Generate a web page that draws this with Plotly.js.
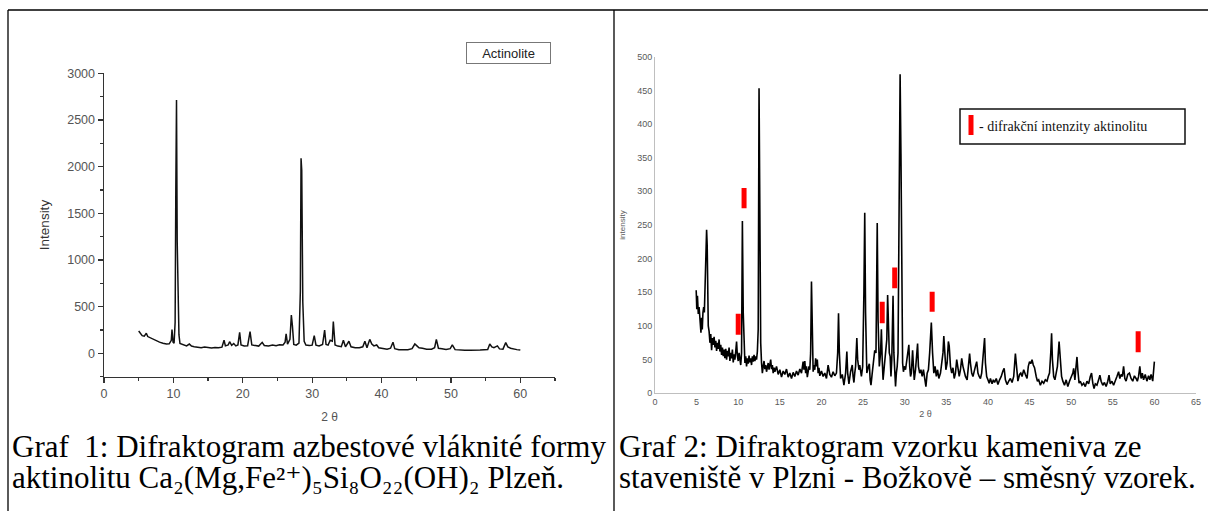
<!DOCTYPE html>
<html>
<head>
<meta charset="utf-8">
<script src="https://cdn.plot.ly/plotly-3.0.1.min.js"></script>
<style>html,body{margin:0;padding:0;background:#fff;}#plot{width:1208px;height:511px;}</style>
</head>
<body>
<div id="plot"></div>
<script>
// ---------- Chart 1: Actinolite diffractogram ----------
var theta1 = [5.0,5.2,5.5,5.8,6.1,6.3,6.7,7.1,7.5,8.0,8.5,9.0,9.4,9.7,9.8,9.95,10.1,10.25,10.35,10.45,10.55,10.65,10.8,10.95,11.4,11.9,12.3,12.6,13.0,13.5,14.0,14.5,15.0,15.5,16.0,16.5,17.0,17.3,17.5,17.9,18.1,18.4,18.7,19.0,19.3,19.55,19.75,20.2,20.7,21.05,21.3,21.8,22.3,22.8,23.1,23.7,24.3,24.8,25.3,25.8,26.1,26.25,26.45,26.8,27.0,27.15,27.35,27.7,28.1,28.3,28.4,28.5,28.65,28.85,29.1,29.6,30.0,30.3,30.55,31.0,31.5,31.8,32.0,32.3,32.6,32.9,33.05,33.3,33.7,34.2,34.5,34.8,35.3,35.6,36.2,36.8,37.3,37.6,37.9,38.3,38.6,38.9,39.3,39.6,40.2,40.8,41.3,41.65,41.9,42.5,43.2,43.8,44.4,44.8,45.1,45.4,45.9,46.5,47.2,47.65,47.9,48.2,48.7,49.3,49.9,50.2,50.6,51.3,52.0,52.8,53.5,54.2,54.8,55.3,55.6,55.9,56.2,56.7,57.0,57.5,57.9,58.2,58.6,59.0,59.5,60.0];
var intensity1 = [240,215,190,185,215,180,165,145,135,120,108,100,102,140,255,120,110,330,1750,2715,1200,790,200,105,90,80,100,78,72,66,60,68,62,58,64,60,66,140,80,90,125,85,105,80,90,225,90,78,82,232,90,84,78,118,85,80,90,82,92,90,120,210,100,150,410,300,95,88,110,670,2090,1960,550,130,90,84,88,190,88,80,95,250,95,88,140,130,340,90,78,72,140,70,130,70,60,60,70,130,60,150,100,80,90,60,52,45,55,120,50,40,38,40,50,100,80,60,55,45,45,60,150,55,50,42,50,90,40,32,32,34,32,36,38,40,100,70,60,80,48,45,115,70,55,45,40,35];
var xTicks1 = [0,10,20,30,40,50,60];
var yTicks1 = [0,500,1000,1500,2000,2500,3000];

// ---------- Chart 2: aggregate sample diffractogram ----------
var theta2 = [4.95,5.02,5.1,5.2,5.3,5.38,5.45,5.52,5.6,5.68,5.76,5.85,5.93,6.0,6.1,6.2,6.27,6.33,6.4,6.5,6.6,6.7,6.8,6.9,7.0,7.1,7.2,7.3,7.4,7.5,7.6,7.7,7.8,7.9,8.0,8.1,8.2,8.3,8.4,8.5,8.6,8.7,8.8,8.9,9.0,9.1,9.2,9.3,9.4,9.5,9.6,9.7,9.8,9.9,10.0,10.1,10.2,10.3,10.4,10.5,10.6,10.7,10.8,10.9,11.0,11.1,11.2,11.3,11.4,11.5,11.6,11.7,11.8,11.9,12.0,12.1,12.2,12.3,12.4,12.5,12.6,12.7,12.8,12.9,13.0,13.1,13.2,13.3,13.4,13.5,13.6,13.7,13.8,13.9,14.0,14.1,14.2,14.3,14.4,14.6,14.8,15.0,15.2,15.4,15.6,15.8,16.0,16.2,16.4,16.6,16.8,17.0,17.2,17.4,17.6,17.8,17.9,18.0,18.1,18.2,18.3,18.4,18.5,18.6,18.7,18.8,18.9,19.0,19.1,19.2,19.3,19.4,19.5,19.6,19.7,19.8,20.0,20.2,20.4,20.6,20.8,21.0,21.2,21.4,21.6,21.8,21.95,22.05,22.15,22.3,22.5,22.7,22.9,23.05,23.15,23.3,23.5,23.7,23.8,23.9,24.0,24.1,24.25,24.35,24.5,24.6,24.8,24.95,25.1,25.2,25.3,25.45,25.6,25.75,25.85,25.95,26.1,26.3,26.4,26.55,26.7,26.8,26.95,27.1,27.2,27.3,27.4,27.55,27.7,27.85,27.95,28.05,28.15,28.25,28.35,28.45,28.6,28.7,28.8,28.9,29.0,29.1,29.2,29.3,29.45,29.55,29.65,29.75,29.85,29.95,30.1,30.2,30.35,30.5,30.6,30.7,30.8,30.95,31.05,31.15,31.3,31.45,31.55,31.65,31.8,31.95,32.1,32.25,32.4,32.55,32.7,32.85,33.0,33.2,33.35,33.5,33.65,33.8,33.95,34.1,34.3,34.45,34.6,34.7,34.8,34.95,35.1,35.25,35.35,35.5,35.65,35.8,35.95,36.1,36.25,36.4,36.55,36.7,36.85,37.0,37.15,37.3,37.5,37.65,37.8,37.9,38.05,38.2,38.35,38.5,38.65,38.8,38.95,39.1,39.25,39.45,39.6,39.7,39.85,40.0,40.15,40.3,40.5,40.65,40.8,41.0,41.2,41.4,41.6,41.8,41.95,42.1,42.3,42.5,42.7,42.9,43.1,43.3,43.45,43.6,43.8,43.95,44.1,44.3,44.5,44.7,44.85,45.0,45.15,45.3,45.45,45.6,45.8,45.95,46.1,46.3,46.5,46.7,46.9,47.1,47.25,47.4,47.55,47.65,47.75,47.9,48.05,48.2,48.35,48.55,48.7,48.85,49.0,49.2,49.4,49.6,49.8,50.0,50.2,50.3,50.45,50.55,50.7,50.8,50.95,51.1,51.3,51.5,51.7,51.9,52.1,52.3,52.45,52.6,52.75,52.9,53.1,53.3,53.45,53.6,53.8,54.0,54.2,54.4,54.55,54.7,54.9,55.1,55.3,55.5,55.7,55.85,56.0,56.15,56.3,56.45,56.6,56.8,57.0,57.2,57.4,57.6,57.8,57.95,58.1,58.25,58.4,58.55,58.7,58.9,59.1,59.3,59.45,59.6,59.8,59.9,60.0];
var intensity2 = [153,125,145,118,128,108,98,90,112,95,120,128,120,150,165,243,220,140,100,92,75,88,64,82,72,84,68,78,63,75,66,80,62,72,57,68,55,65,52,66,50,63,55,68,48,60,52,65,46,58,50,62,77,55,48,60,50,42,60,256,120,52,45,55,40,52,44,56,46,52,42,55,47,57,48,55,50,62,95,453,250,75,45,30,40,48,36,42,32,38,45,35,44,50,36,42,30,38,32,40,28,35,24,33,28,36,24,30,22,31,25,33,27,36,30,47,35,48,30,40,24,30,40,35,60,166,80,32,42,35,52,40,50,30,38,26,33,25,30,22,42,28,24,32,26,30,60,119,60,22,28,12,30,62,30,14,32,42,25,16,30,40,82,50,35,42,25,40,150,268,120,30,38,44,20,12,30,50,64,60,253,110,40,60,95,50,20,40,60,80,146,90,60,55,25,50,145,60,22,10,30,40,60,200,474,356,120,45,32,40,35,45,60,72,40,25,30,64,40,20,35,55,74,40,30,35,25,35,20,10,30,35,60,105,60,30,40,25,35,22,30,45,60,85,55,35,45,77,70,40,30,38,22,30,50,40,25,35,52,40,30,25,20,35,59,45,30,25,35,40,47,30,25,22,30,60,82,45,25,20,15,22,14,20,16,22,13,20,25,33,37,20,13,18,22,16,25,59,30,18,28,30,25,35,28,22,40,47,44,50,42,38,25,18,20,12,18,15,20,18,25,30,60,89,50,25,20,28,40,77,40,25,18,12,20,10,18,25,30,37,20,35,54,35,15,18,12,15,10,18,14,25,30,15,7,14,12,20,27,18,12,16,10,18,27,14,18,12,20,25,32,22,28,25,40,22,18,28,30,22,18,26,22,18,25,40,22,30,20,28,18,26,20,28,18,35,47];
var markTheta = [10.0,10.7,27.3,28.8,33.3,58.05];
var markLow = [87,275,104,156,121,61];
var markHigh = [118,305,136,187,151,92];
var xTicks2 = [0,5,10,15,20,25,30,35,40,45,50,55,60,65];
var yTicks2 = [0,50,100,150,200,250,300,350,400,450,500];

// ---------- helpers (pixel -> paper) ----------
var W = 1208, H = 511;
function px(x){ return x / W; }
function py(y){ return 1 - y / H; }

// build segment arrays for the red marks
var segX = [], segY = [];
for (var i = 0; i < markTheta.length; i++) {
  segX.push(markTheta[i], markTheta[i], null);
  segY.push(markLow[i], markHigh[i], null);
}

var traces = [
  {x: theta1, y: intensity1, type: 'scatter', mode: 'lines', xaxis: 'x', yaxis: 'y',
   line: {color: '#111', width: 1.5}, hoverinfo: 'skip', showlegend: false},
  {x: theta2, y: intensity2, type: 'scatter', mode: 'lines', xaxis: 'x2', yaxis: 'y2',
   line: {color: '#000', width: 1.6}, hoverinfo: 'skip', showlegend: false},
  {x: segX, y: segY, type: 'scatter', mode: 'lines', xaxis: 'x2', yaxis: 'y2',
   line: {color: '#ff0000', width: 5}, hoverinfo: 'skip', showlegend: false}
];

var tickFont1 = {family: 'Liberation Sans, Arial, sans-serif', size: 12.5, color: '#555'};
var tickFont2 = {family: 'Liberation Sans, Arial, sans-serif', size: 9, color: '#595959'};
var capFont = {family: 'Liberation Serif, DejaVu Serif, serif', size: 31, color: '#000'};

var layout = {
  width: W, height: H, autosize: false,
  margin: {l: 0, r: 0, t: 0, b: 0},
  paper_bgcolor: '#fff', plot_bgcolor: 'rgba(0,0,0,0)',
  showlegend: false,
  xaxis: {
    domain: [px(104), px(555)], range: [0, 65], anchor: 'y',
    showline: true, linecolor: '#333', linewidth: 1.5, mirror: false,
    ticks: 'outside', ticklen: 5, tickwidth: 1.2, tickcolor: '#333',
    tickvals: xTicks1, ticktext: xTicks1.map(String),
    minor: {tickvals: [5,15,25,35,45,55,65], ticks: 'outside', ticklen: 3, tickcolor: '#333'},
    showgrid: false, zeroline: false, tickfont: tickFont1,
    title: {text: '2 θ', font: {family: 'Liberation Sans, Arial, sans-serif', size: 12, color: '#555'}, standoff: 12}
  },
  yaxis: {
    domain: [py(376.7), py(73.3)], range: [-250, 3000], anchor: 'x',
    showline: true, linecolor: '#333', linewidth: 1.5,
    ticks: 'outside', ticklen: 5, tickwidth: 1.2, tickcolor: '#333',
    tickvals: yTicks1, ticktext: yTicks1.map(String),
    minor: {tickvals: [-250,250,750,1250,1750,2250,2750], ticks: 'outside', ticklen: 3, tickcolor: '#333'},
    showgrid: false, zeroline: false, tickfont: tickFont1,
    title: {text: 'Intensity', font: {family: 'Liberation Sans, Arial, sans-serif', size: 13.5, color: '#333'}, standoff: 14}
  },
  xaxis2: {
    domain: [px(655), px(1196)], range: [0, 65], anchor: 'y2',
    showline: true, linecolor: '#bfbfbf', linewidth: 1,
    ticks: '', tickvals: xTicks2, ticktext: xTicks2.map(String),
    showgrid: false, zeroline: false, tickfont: tickFont2,
    title: {text: '2 θ', font: {family: 'Liberation Sans, Arial, sans-serif', size: 9, color: '#595959'}, standoff: 4}
  },
  yaxis2: {
    domain: [py(393.3), py(56.7)], range: [0, 500], anchor: 'x2',
    showline: true, linecolor: '#bfbfbf', linewidth: 1,
    ticks: '', tickvals: yTicks2, ticktext: yTicks2.map(String),
    showgrid: false, zeroline: false, tickfont: tickFont2,
    title: {text: 'intensity', font: {family: 'Liberation Sans, Arial, sans-serif', size: 8, color: '#595959'}, standoff: 10}
  },
  shapes: [
    // table borders
    {type: 'line', xref: 'paper', yref: 'paper', x0: px(8), x1: px(1208), y0: py(10), y1: py(10), line: {color: '#000', width: 1.3}},
    {type: 'line', xref: 'paper', yref: 'paper', x0: px(8), x1: px(8), y0: py(10), y1: py(511), line: {color: '#000', width: 1.3}},
    {type: 'line', xref: 'paper', yref: 'paper', x0: px(614), x1: px(614), y0: py(10), y1: py(511), line: {color: '#000', width: 1.3}},
    // legend box chart 2
    {type: 'rect', xref: 'paper', yref: 'paper', x0: px(960), x1: px(1185), y0: py(144), y1: py(109), line: {color: '#111', width: 1.5}, fillcolor: '#fff'},
    {type: 'line', xref: 'paper', yref: 'paper', x0: px(971), x1: px(971), y0: py(135), y1: py(115), line: {color: '#ff0000', width: 5}}
  ],
  annotations: [
    {xref: 'paper', yref: 'paper', x: px(508.5), y: py(53), xanchor: 'center', yanchor: 'middle',
     text: 'Actinolite', showarrow: false, bordercolor: '#777', borderwidth: 1, borderpad: 2,
     width: 79, height: 16, bgcolor: '#fff',
     font: {family: 'Liberation Sans, Arial, sans-serif', size: 13, color: '#222'}},
    {xref: 'paper', yref: 'paper', x: px(977), y: py(126.5), xanchor: 'left', yanchor: 'middle',
     text: '- difrakční intenzity aktinolitu', showarrow: false,
     font: {family: 'Liberation Serif, Times New Roman, serif', size: 14, color: '#111'}},
    {xref: 'paper', yref: 'paper', x: px(10), y: py(446), xanchor: 'left', yanchor: 'middle',
     text: 'Graf\u00a0 1: Difraktogram azbestové vláknité formy', showarrow: false, font: capFont},
    {xref: 'paper', yref: 'paper', x: px(10), y: py(477), xanchor: 'left', yanchor: 'middle',
     text: 'aktinolitu Ca\u2082(Mg,Fe\u00b2\u207a)\u2085Si\u2088O\u2082\u2082(OH)\u2082 Plzeň.', showarrow: false, font: capFont},
    {xref: 'paper', yref: 'paper', x: px(617), y: py(446), xanchor: 'left', yanchor: 'middle',
     text: 'Graf 2: Difraktogram vzorku kameniva ze', showarrow: false, font: capFont},
    {xref: 'paper', yref: 'paper', x: px(617), y: py(477), xanchor: 'left', yanchor: 'middle',
     text: 'staveniště v Plzni - Božkově – směsný vzorek.', showarrow: false, font: capFont}
  ]
};

Plotly.newPlot('plot', traces, layout, {staticPlot: true, displayModeBar: false});
</script>
</body>
</html>
